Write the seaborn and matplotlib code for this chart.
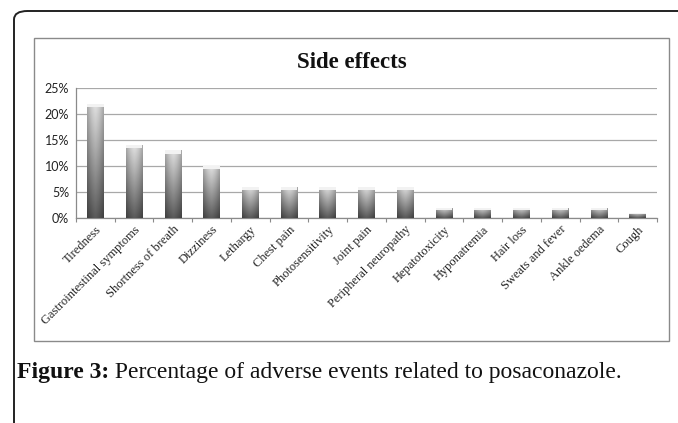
import numpy as np
import pandas as pd
import matplotlib
matplotlib.use("Agg")
import matplotlib.pyplot as plt
import seaborn as sns
from matplotlib.patches import FancyBboxPatch, Rectangle
from matplotlib.ticker import PercentFormatter, FixedLocator

# ================= data =================
categories = [
    "Tiredness", "Gastrointestinal symptoms", "Shortness of breath", "Dizziness",
    "Lethargy", "Chest pain", "Photosensitivity", "Joint pain",
    "Peripheral neuropathy", "Hepatotoxicity", "Hyponatremia", "Hair loss",
    "Sweats and fever", "Ankle oedema", "Cough",
]
percentages = [0.22, 0.14, 0.13, 0.10, 0.06, 0.06, 0.06, 0.06, 0.06,
               0.02, 0.02, 0.02, 0.02, 0.02, 0.01]
y_ticks = [0, 0.05, 0.10, 0.15, 0.20, 0.25]
title = "Side effects"
caption_bold = "Figure 3:"
caption_text = " Percentage of adverse events related to posaconazole."
# ========================================

W, H = 678, 423
df = pd.DataFrame({"effect": categories, "pct": percentages})

sns.set_theme(style="white")
plt.rcParams["font.family"] = ["Liberation Serif", "DejaVu Serif"]

fig = plt.figure(figsize=(W / 100, H / 100), dpi=100)

# outer rounded frame (cropped on the right and bottom)
outer = FancyBboxPatch((14 / W, -0.2), 1.2, (H - 11) / H + 0.2,
                       boxstyle="round,pad=0,rounding_size=0.02",
                       transform=fig.transFigure, fill=False,
                       edgecolor="#222222", linewidth=1.4)
fig.patches.append(outer)

# inner chart frame
inner = Rectangle((34 / W, (H - 341) / H), (669 - 34) / W, (341 - 38) / H,
                  transform=fig.transFigure, fill=False,
                  edgecolor="#8a8a8a", linewidth=1.0)
fig.patches.append(inner)

ax = fig.add_axes([76 / W, (H - 218) / H, (657 - 76) / W, (218 - 88) / H])
sns.barplot(data=df, x="effect", y="pct", ax=ax, width=0.43,
            color="#888888", edgecolor="none")

# cylinder-like gradient on each bar
ny, nx = 64, 32
yy = np.linspace(1, 0, ny)[:, None]       # 1 at top, 0 at bottom
xx = np.linspace(-1, 1, nx)[None, :]
vert = 0.30 + 0.52 * yy
horiz = 0.78 + 0.22 * np.cos(xx * np.pi / 2.2)
shade = np.clip(vert * horiz + 0.06 * (1 - np.abs(xx)), 0, 1)
for bar in ax.patches:
    x0, y0 = bar.get_x(), bar.get_y()
    w, h = bar.get_width(), bar.get_height()
    img = ax.imshow(shade, cmap="gray", vmin=0, vmax=1, aspect="auto",
                    extent=(x0, x0 + w, y0, y0 + h), zorder=3,
                    interpolation="bilinear")
    img.set_clip_path(bar)
    # light cap at the top of the bar
    cap_h = min(h * 0.25, 0.006)
    ax.fill_between([x0, x0 + w], y0 + h - cap_h, y0 + h,
                    color="#f2f2f2", zorder=4, linewidth=0)
    bar.set_facecolor("none")

ax.set_xlim(-0.5, len(categories) - 0.5)
ax.set_ylim(0, 0.25)
ax.set_yticks(y_ticks)
ax.yaxis.set_major_formatter(PercentFormatter(1, decimals=0))
ax.grid(axis="y", color="#a8a8a8", linewidth=0.9, zorder=0)
ax.set_axisbelow(True)

for s in ["top", "right"]:
    ax.spines[s].set_visible(False)
for s in ["left", "bottom"]:
    ax.spines[s].set_color("#8a8a8a")
    ax.spines[s].set_linewidth(0.9)

ax.set_xlabel("")
ax.set_ylabel("")
ax.tick_params(axis="y", length=3, width=0.8, color="#8a8a8a",
               direction="out", pad=2, labelsize=9)
for lab in ax.get_yticklabels():
    lab.set_family(["Lato", "DejaVu Sans"])
    lab.set_color("#222222")

ax.xaxis.set_minor_locator(FixedLocator(np.arange(-0.5, len(categories), 1.0)))
ax.tick_params(axis="x", which="minor", length=3, width=0.8,
               color="#8a8a8a", direction="out", bottom=True)
ax.tick_params(axis="x", which="major", length=0, pad=4, labelsize=9)
ax.set_xticks(range(len(categories)))
ax.set_xticklabels(categories, rotation=45, ha="right",
                   rotation_mode="anchor", color="#222222")

fig.text(352 / W, (H - 63) / H, title, ha="center", va="center",
         fontsize=16.5, fontweight="bold", color="#111111")

cap = fig.text(17 / W, (H - 372) / H, caption_bold, ha="left", va="center",
               fontsize=17, fontweight="bold", color="#111111")
fig.canvas.draw()
bb = cap.get_window_extent()
fig.text(bb.x1 / W, (H - 372) / H, caption_text, ha="left", va="center",
         fontsize=17, color="#111111")

fig.savefig("out.png", dpi=100)
